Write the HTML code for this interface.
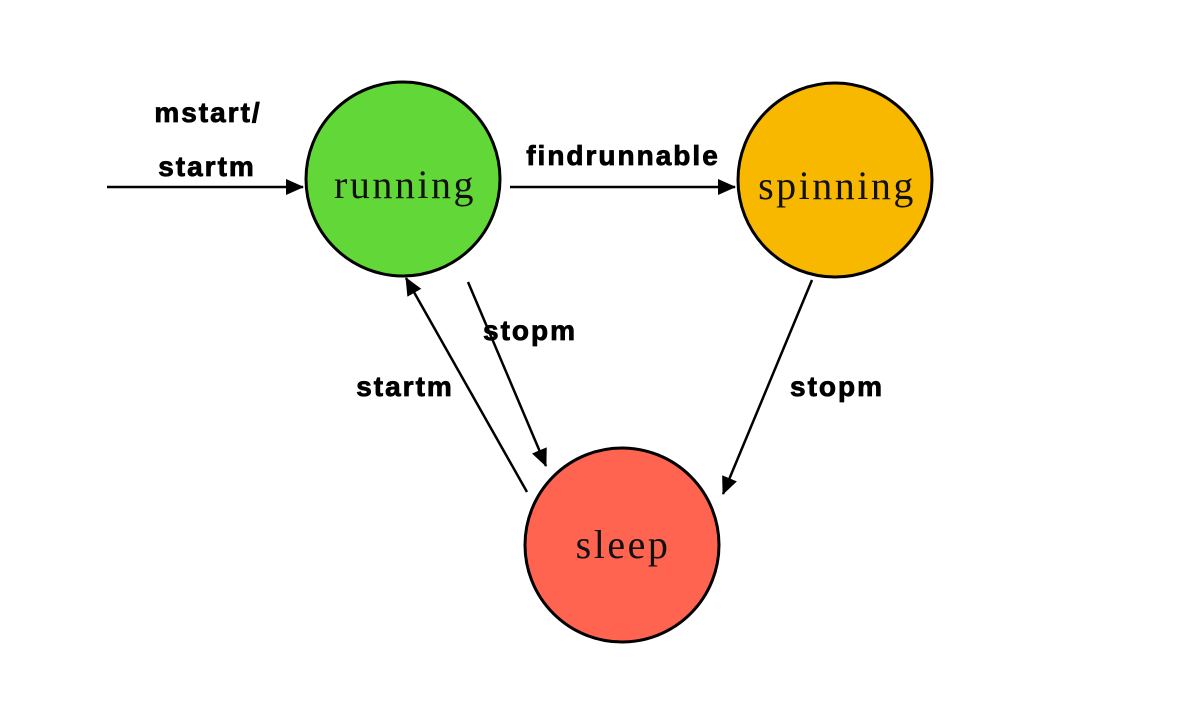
<!DOCTYPE html>
<html><head><style>
html,body{margin:0;padding:0;background:#fff;}
svg{display:block;}
.l{font-family:"Liberation Sans",sans-serif;font-weight:bold;font-size:28px;letter-spacing:2px;fill:#000;stroke:#000;stroke-width:0.8px;text-anchor:middle;}
.n{font-family:"Liberation Serif",serif;font-size:40px;letter-spacing:2.5px;fill:#111;text-anchor:middle;}
</style></head><body>
<svg width="1200" height="715" viewBox="0 0 1200 715">
<defs>
<marker id="b" markerWidth="18" markerHeight="16" refX="17" refY="8" orient="auto" markerUnits="userSpaceOnUse"><path d="M0,0 L18,8 L0,16 z" fill="#000"/></marker></defs>
<circle cx="403" cy="179" r="97" fill="#62d838" stroke="#000" stroke-width="3"/>
<circle cx="835" cy="180" r="97" fill="#f9b800" stroke="#000" stroke-width="3"/>
<circle cx="622" cy="545" r="97" fill="#fe6450" stroke="#000" stroke-width="3"/>
<text class="n" x="405" y="198">running</text>
<text class="n" x="837" y="199">spinning</text>
<text class="n" x="623" y="558">sleep</text>
<g stroke="#000" stroke-width="2.5" fill="none">
<line x1="107" y1="187" x2="303" y2="187" marker-end="url(#b)"/>
<line x1="510" y1="187" x2="735" y2="187" marker-end="url(#b)"/>
<line x1="812" y1="280" x2="723" y2="494" marker-end="url(#b)"/>
<line x1="527" y1="492" x2="406" y2="278" marker-end="url(#b)"/>
<line x1="468" y1="282" x2="546" y2="466" marker-end="url(#b)"/>
</g>
<text class="l" x="208" y="122">mstart/</text>
<text class="l" x="207" y="176">startm</text>
<text class="l" x="623" y="165">findrunnable</text>
<text class="l" x="530" y="340">stopm</text>
<text class="l" x="405" y="396">startm</text>
<text class="l" x="837" y="396">stopm</text>
</svg>
</body></html>
